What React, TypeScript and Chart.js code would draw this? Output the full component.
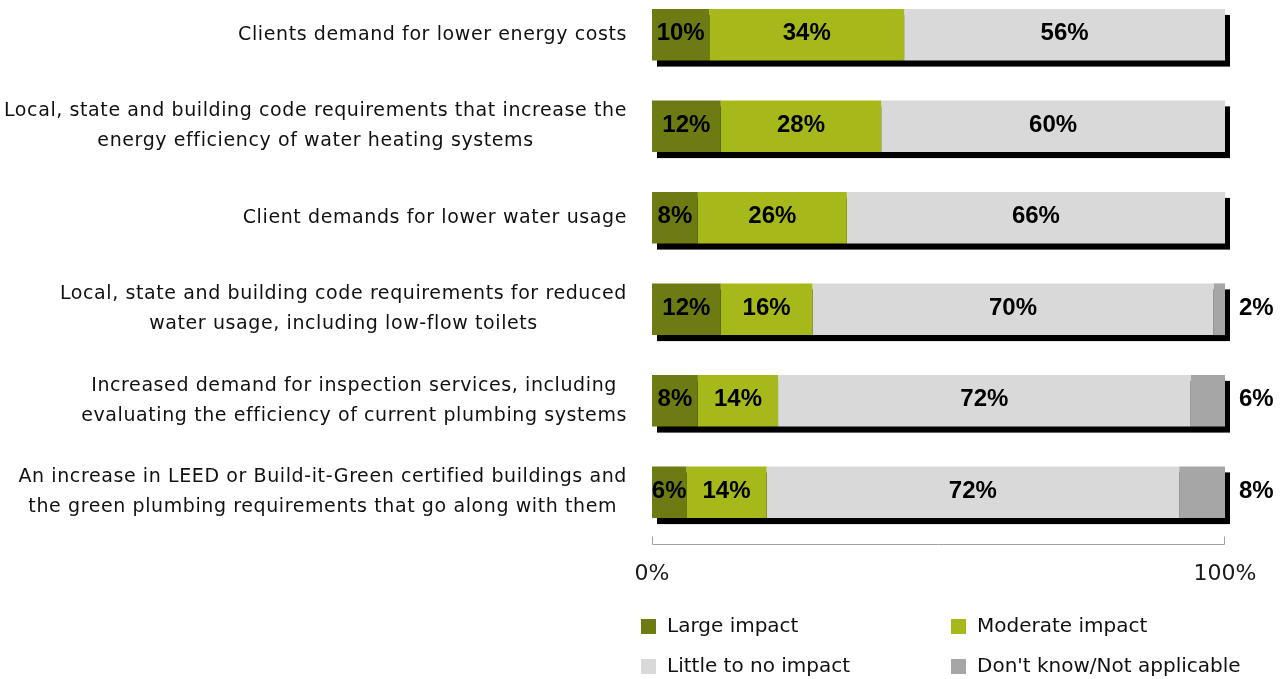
import { useEffect, useRef } from 'react';
import { Chart, registerables } from 'chart.js';

Chart.register(...registerables);

const categories: string[][] = [
  ['Clients demand for lower energy costs'],
  ['Local, state and building code requirements that increase the', 'energy efficiency of water heating systems'],
  ['Client demands for lower water usage'],
  ['Local, state and building code requirements for reduced', 'water usage, including low-flow toilets'],
  ['Increased demand for inspection services, including', 'evaluating the efficiency of current plumbing systems'],
  ['An increase in LEED or Build-it-Green certified buildings and', 'the green plumbing requirements that go along with them'],
];
const largeImpact = [10, 12, 8, 12, 8, 6];
const moderateImpact = [34, 28, 26, 16, 14, 14];
const littleImpact = [56, 60, 66, 70, 72, 72];
const dontKnow = [0, 0, 0, 2, 6, 8];
const seriesNames = ['Large impact', 'Moderate impact', 'Little to no impact', "Don't know/Not applicable"];
const seriesColors = ['#6E7B12', '#A7B81A', '#D9D9D9', '#A6A6A6'];
const xMin = 0;
const xMax = 100;
const xStep = 100;

const LABEL_FONT = '19px "DejaVu Sans"';
const VALUE_FONT = 'bold 24px "Liberation Sans"';
const LEGEND_FONT = '20px "DejaVu Sans"';

const shadowPlugin = {
  id: 'barShadow',
  beforeDatasetsDraw(chart: any) {
    const { ctx } = chart;
    const xs = chart.scales.x;
    const meta0 = chart.getDatasetMeta(0);
    ctx.save();
    ctx.fillStyle = '#000';
    meta0.data.forEach((el: any, i: number) => {
      let total = 0;
      chart.data.datasets.forEach((ds: any) => { total += ds.data[i]; });
      const x0 = xs.getPixelForValue(0);
      const x1 = xs.getPixelForValue(total);
      const h = el.height;
      ctx.fillRect(x0 + 5, el.y - h / 2 + 6, x1 - x0, h);
    });
    ctx.restore();
  },
};

const labelsPlugin = {
  id: 'valueLabels',
  afterDatasetsDraw(chart: any) {
    const { ctx, chartArea } = chart;
    ctx.save();
    ctx.font = VALUE_FONT;
    ctx.fillStyle = '#000';
    ctx.textBaseline = 'middle';
    const n = chart.data.datasets.length;
    chart.data.datasets.forEach((ds: any, d: number) => {
      const meta = chart.getDatasetMeta(d);
      meta.data.forEach((el: any, i: number) => {
        const v = ds.data[i];
        if (!v) return;
        if (d === n - 1) {
          ctx.textAlign = 'left';
          ctx.fillText(v + '%', chartArea.right + 14, el.y - 1);
        } else {
          ctx.textAlign = 'center';
          ctx.fillText(v + '%', (el.x + el.base) / 2, el.y - 1);
        }
      });
    });
    ctx.restore();
  },
};

const categoryPlugin = {
  id: 'categoryLabels',
  afterDraw(chart: any) {
    const { ctx, chartArea } = chart;
    const ys = chart.scales.y;
    ctx.save();
    ctx.font = LABEL_FONT;
    try { (ctx as any).letterSpacing = '0.6px'; } catch (e) { /* ignore */ }
    ctx.fillStyle = '#111';
    ctx.textBaseline = 'middle';
    ctx.textAlign = 'center';
    categories.forEach((lines, i) => {
      const y = ys.getPixelForValue(i);
      const maxW = Math.max(...lines.map((l) => ctx.measureText(l).width));
      const cx = chartArea.left - 25 - maxW / 2;
      lines.forEach((l, k) => {
        ctx.fillText(l, cx, y + (k - (lines.length - 1) / 2) * 30);
      });
    });
    ctx.restore();
  },
};

const axisPlugin = {
  id: 'axisLine',
  afterDraw(chart: any) {
    const { ctx, chartArea } = chart;
    const xs = chart.scales.x;
    const x0 = Math.round(xs.getPixelForValue(xMin)) + 0.5;
    const x1 = Math.round(xs.getPixelForValue(xMax)) - 0.5;
    const y = Math.round(chartArea.bottom + 6) + 0.5;
    ctx.save();
    ctx.strokeStyle = '#A0A0A0';
    ctx.lineWidth = 1;
    ctx.beginPath();
    ctx.moveTo(x0, y - 8);
    ctx.lineTo(x0, y);
    ctx.lineTo(x1, y);
    ctx.lineTo(x1, y - 8);
    ctx.stroke();
    ctx.restore();
  },
};

const legendPlugin = {
  id: 'gridLegend',
  afterDraw(chart: any) {
    const { ctx, chartArea } = chart;
    const baseX = chartArea.left - 11;
    const colGap = 310;
    const rowY = [chartArea.bottom + 88, chartArea.bottom + 128];
    ctx.save();
    ctx.font = LEGEND_FONT;
    ctx.textBaseline = 'middle';
    ctx.textAlign = 'left';
    seriesNames.forEach((name, i) => {
      const col = i % 2;
      const row = Math.floor(i / 2);
      const x = baseX + col * colGap;
      const y = rowY[row];
      ctx.fillStyle = seriesColors[i];
      ctx.fillRect(x, y - 7, 15, 15);
      ctx.fillStyle = '#111';
      ctx.fillText(name, x + 26, y + 1);
    });
    ctx.restore();
  },
};

export default function App() {
  const ref = useRef<HTMLCanvasElement | null>(null);
  useEffect(() => {
    if (!ref.current) return;
    const seriesValues = [largeImpact, moderateImpact, littleImpact, dontKnow];
    const chart = new Chart(ref.current, {
      type: 'bar',
      data: {
        labels: categories.map((c) => c.join(' ')),
        datasets: seriesNames.map((name, i) => ({
          label: name,
          data: seriesValues[i],
          backgroundColor: seriesColors[i],
          borderWidth: 0,
          barPercentage: 0.565,
          categoryPercentage: 1,
        })),
      },
      options: {
        indexAxis: 'y',
        responsive: false,
        animation: false,
        layout: { padding: { left: 652, right: 61, top: 9, bottom: 81 } },
        plugins: { legend: { display: false }, tooltip: { enabled: false } },
        scales: {
          y: { stacked: true, display: false, offset: true },
          x: {
            stacked: true,
            min: xMin,
            max: xMax,
            grid: { display: false, drawTicks: false },
            border: { display: false },
            ticks: {
              stepSize: xStep,
              padding: 23,
              color: '#1a1a1a',
              font: { family: 'DejaVu Sans', size: 22 },
              callback: (v: any) => v + '%',
              maxRotation: 0,
            },
            afterFit: (s: any) => { s.height = 60; },
          },
        },
      },
      plugins: [shadowPlugin, labelsPlugin, categoryPlugin, axisPlugin, legendPlugin],
    });
    return () => chart.destroy();
  }, []);
  return (
    <div style={{ position: 'absolute', left: 0, top: -20, width: 1286, height: 699 }}>
      <canvas ref={ref} width={1286} height={699} style={{ display: 'block' }} />
    </div>
  );
}
